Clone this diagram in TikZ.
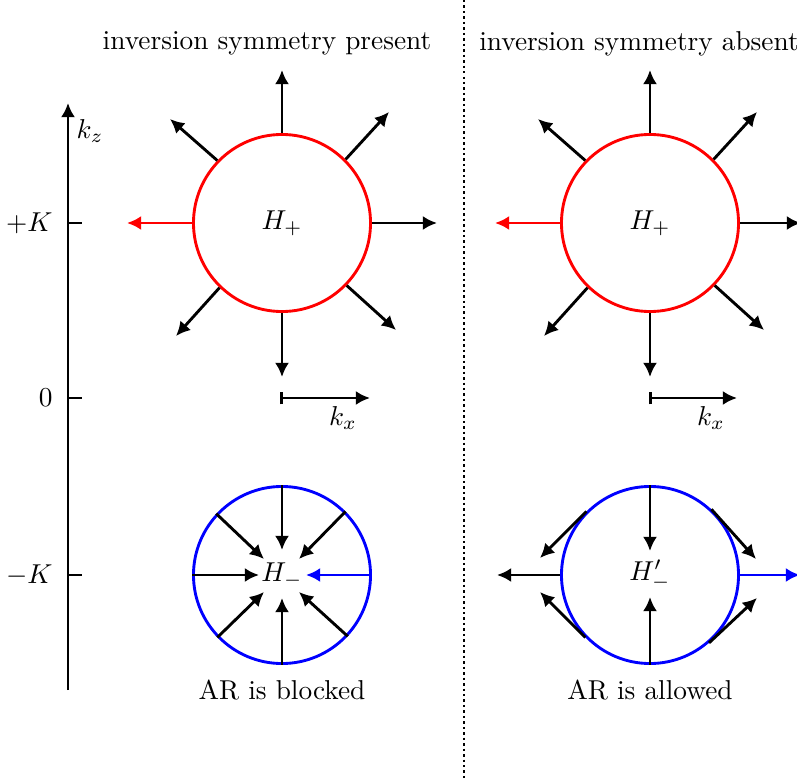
\documentclass[tikz,border=0pt]{standalone}
\usetikzlibrary{arrows.meta}
\begin{document}
\begin{tikzpicture}[x=0.366pt,y=-0.366pt,
  tip/.tip={Latex[length=5.2pt,width=5.2pt]},
  arr/.style={-tip, line width=1.05pt},
  ring/.style={circle, draw, line width=1.05pt, minimum size=64.8pt, inner sep=0pt},
  lab/.style={inner sep=0pt}]
\useasboundingbox (0,0) rectangle (797,780);
\clip (0,0) rectangle (797,780);

% titles
\node[lab] (t1) at (267,43.5) {inversion symmetry present};
\node[lab] (t2) at (639,43.5) {inversion symmetry absent};

% separator
\coordinate (sepT) at (464,0);
\coordinate (sepB) at (464,780);
\draw[dash pattern=on 0.9pt off 1.1pt, line width=0.9pt] (sepT) -- (sepB);

% k_z axis
\coordinate (zB) at (68,690);
\coordinate (zT) at (68,103);
\draw[-tip, line width=1.05pt] (zB) -- (zT);
\draw[line width=1.05pt] (68,223) -- (82,223);
\draw[line width=1.05pt] (68,398) -- (82,398);
\draw[line width=1.05pt] (68,575) -- (82,575);
\node[lab, anchor=east] (lK) at (53,223) {$+K$};
\node[lab, anchor=east] (l0) at (53,398) {$0$};
\node[lab, anchor=east] (lmK) at (53,575) {$-K$};
\node[lab] (kz) at (90,131) {$k_z$};

% circles
\node[ring, draw=red] (Hp) at (282,223) {$H_+$};
\node[ring, draw=red] (Hq) at (650,223) {$H_+$};
\node[ring, draw=blue] (Hm) at (282,575) {$H_-$};
\node[ring, draw=blue] (Hn) at (650,575) {$H'_-$};

% left top arrows
\coordinate (pT) at (282,70);
\coordinate (pUR) at (389,112);
\coordinate (pR) at (437,223);
\coordinate (pLR) at (396,330);
\coordinate (pB) at (282,377);
\coordinate (pLL) at (176,336);
\coordinate (pL) at (127,223);
\coordinate (pUL) at (170,119);
\draw[arr] (Hp.north) -- (pT);
\draw[arr] (Hp.45) -- (pUR);
\draw[arr] (Hp.east) -- (pR);
\draw[arr] (Hp.316) -- (pLR);
\draw[arr] (Hp.south) -- (pB);
\draw[arr] (Hp.226) -- (pLL);
\draw[arr, red] (Hp.west) -- (pL);
\draw[arr] (Hp.136) -- (pUL);

% right top arrows
\coordinate (qT) at (650,70);
\coordinate (qUR) at (757,112);
\coordinate (qR) at (801,223);
\coordinate (qLR) at (764,330);
\coordinate (qB) at (650,377);
\coordinate (qLL) at (544,336);
\coordinate (qL) at (495,223);
\coordinate (qUL) at (538,119);
\draw[arr] (Hq.north) -- (qT);
\draw[arr] (Hq.45) -- (qUR);
\draw[arr] (Hq.east) -- (qR);
\draw[arr] (Hq.316) -- (qLR);
\draw[arr] (Hq.south) -- (qB);
\draw[arr] (Hq.226) -- (qLL);
\draw[arr, red] (Hq.west) -- (qL);
\draw[arr] (Hq.136) -- (qUL);

% k_x arrows
\coordinate (xa) at (280,398);
\coordinate (xb) at (370,398);
\draw[{Bar[width=4.6pt]}-tip, line width=1.05pt] (xa) -- (xb);
\node[lab] (kx1) at (343,418) {$k_x$};
\coordinate (ya) at (649,398);
\coordinate (yb) at (737,398);
\draw[{Bar[width=4.6pt]}-tip, line width=1.05pt] (ya) -- (yb);
\node[lab] (kx2) at (711,418) {$k_x$};

% bottom left inward arrows
\coordinate (mT) at (282,550);
\coordinate (mR) at (306,575);
\coordinate (mB) at (282,598);
\coordinate (mL) at (259,575);
\coordinate (mUL) at (264,559);
\coordinate (mUR) at (299,559);
\coordinate (mLL) at (264,592);
\coordinate (mLR) at (299,592);
\draw[arr] (Hm.north) -- (mT);
\draw[arr, blue] (Hm.east) -- (mR);
\draw[arr] (Hm.south) -- (mB);
\draw[arr] (Hm.west) -- (mL);
\draw[arr] (Hm.137) -- (mUL);
\draw[arr] (Hm.45) -- (mUR);
\draw[arr] (Hm.224) -- (mLL);
\draw[arr] (Hm.317) -- (mLR);

% bottom right arrows
\coordinate (nT) at (650,551);
\coordinate (nB) at (650,597);
\coordinate (nL) at (497,575);
\coordinate (nR) at (800,575);
\coordinate (nUL) at (540,558);
\coordinate (nUR) at (756,559);
\coordinate (nLL) at (540,592);
\coordinate (nLR) at (757,598);
\draw[arr] (Hn.north) -- (nT);
\draw[arr] (Hn.south) -- (nB);
\draw[arr] (Hn.west) -- (nL);
\draw[arr, blue] (Hn.east) -- (nR);
\draw[arr] (Hn.135) -- (nUL);
\draw[arr] (Hn.47) -- (nUR);
\draw[arr] (Hn.224) -- (nLL);
\draw[arr] (Hn.311) -- (nLR);

% captions
\node[lab] (c1) at (282,690) {AR is blocked};
\node[lab] (c2) at (650,690) {AR is allowed};
\end{tikzpicture}
\end{document}
